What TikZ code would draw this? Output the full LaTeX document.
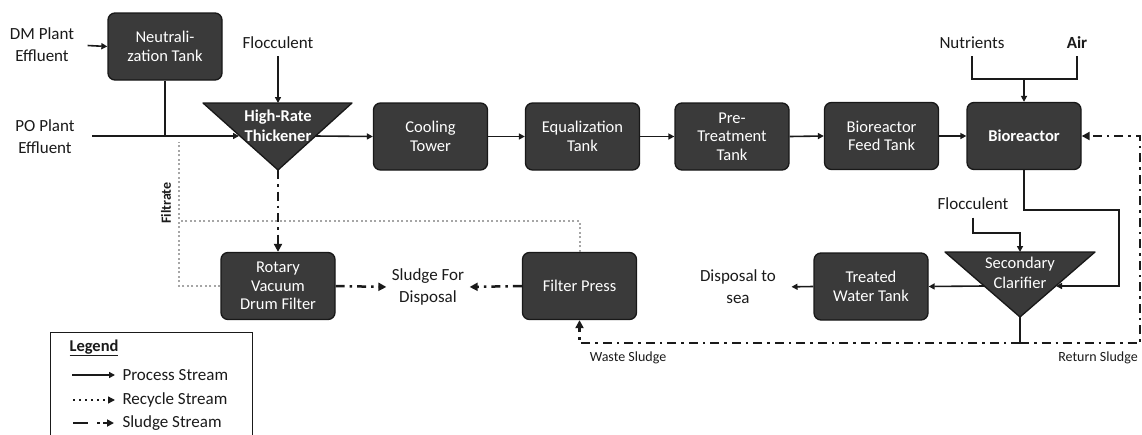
\documentclass[tikz,border=0pt]{standalone}
\usepackage{fontspec}
\setmainfont{Carlito}
\usetikzlibrary{arrows.meta,calc}
\definecolor{boxfill}{HTML}{3A3A3A}
\definecolor{boxline}{HTML}{181818}
\definecolor{recycle}{HTML}{A6A6A6}
\definecolor{ink}{HTML}{1A1A1A}
\begin{document}
\begin{tikzpicture}[x=1pt,y=-1pt,
  unit/.style={draw=boxline, fill=boxfill, rounded corners=7pt, line width=1.3pt,
    minimum width=114pt, minimum height=67pt, text=white, align=center, inner sep=2pt,
    font=\fontsize{16.5}{18.5}\selectfont},
  tri/.style={draw=boxline, fill=boxfill, line width=1.3pt, line join=round},
  tritext/.style={text=white, align=center, inner sep=0pt, font=\fontsize{16.5}{20}\selectfont},
  lbl/.style={align=center, text=ink, font=\fontsize{17}{22}\selectfont},
  small/.style={text=ink, font=\fontsize{14}{16}\selectfont},
  proc/.style={line width=1.6pt, draw=ink, -{Triangle[length=6pt,width=6pt]}},
  procl/.style={line width=1.6pt, draw=ink},
  sludge/.style={line width=2.5pt, draw=ink, dash pattern=on 9pt off 5pt on 2.5pt off 5pt},
  sludgetip/.style={-{Triangle[length=8pt,width=8pt]}},
  recyc/.style={line width=2pt, draw=recycle, dash pattern=on 2pt off 2.5pt}
]
\useasboundingbox (0,0) rectangle (1142,434);

% ---------- process units ----------
\node[unit] (neut) at (165,46.5) {Neutrali-\\zation Tank};
\node[unit] (cool) at (430.5,136.5) {Cooling\\Tower};
\node[unit] (equal) at (582.5,136.5) {Equalization\\Tank};
\node[unit] (pre) at (732,136.5) {Pre-\\Treatment\\Tank};
\node[unit] (feed) at (881.5,136) {Bioreactor\\Feed Tank};
\node[unit] (bio) at (1024,136) {\textbf{Bioreactor}};
\node[unit] (rvdf) at (278,286) {Rotary\\Vacuum\\Drum Filter};
\node[unit] (fp) at (579.5,286) {Filter Press};
\node[unit] (tw) at (871,286.5) {Treated\\Water Tank};

% ---------- triangles ----------
\coordinate (hA) at (203,103);
\coordinate (hB) at (352,103);
\coordinate (hC) at (278,170);
\coordinate (htop) at (278,103);
\coordinate (hin) at (239,136);
\coordinate (hout) at (315,136);
\draw[tri] (hA) -- (hB) -- (hC) -- cycle;
\node[tritext] (hrt) at (278,125.5) {\textbf{High-Rate}\\\textbf{Thickener}};

\coordinate (cA) at (945,252);
\coordinate (cB) at (1095,252);
\coordinate (cC) at (1020,317);
\coordinate (ctop) at (1020,252);
\coordinate (cin) at (1056,286);
\coordinate (cout) at (984,286);
\draw[tri] (cA) -- (cB) -- (cC) -- cycle;
\node[tritext] (sc) at (1020,273) {Secondary\\Clarifier};

% ---------- labels ----------
\node[lbl] (dm) at (42,45) {DM Plant\\Effluent};
\node[lbl] (po) at (45,137) {PO Plant\\Effluent};
\node[lbl] (floc1) at (278,43) {Flocculent};
\node[lbl] (nut) at (972,43) {Nutrients};
\node[lbl] (air) at (1077,43) {\textbf{Air}};
\node[lbl] (floc2) at (973,204) {Flocculent};
\node[lbl] (disp) at (738,287) {Disposal to\\sea};
\node[lbl] (sfd) at (428,287) {Sludge For\\Disposal};
\node[small, font=\fontsize{14}{16}\selectfont\bfseries, rotate=90] (filt) at (166,203) {Filtrate};
\node[small] (waste) at (628,358) {Waste Sludge};
\node[small] (ret) at (1098,358) {Return Sludge};

% ---------- process streams ----------
\draw[proc, shorten <=10pt] (dm.east) -- (neut.west);
\coordinate (pj) at (165,136);
\draw[procl, shorten <=14pt] (po.east |- pj) -- (pj);
\draw[proc] (pj) -- (hin);
\draw[procl] (neut.south) -- (pj);
\draw[proc, shorten <=4pt] (floc1.south) -- (htop);
\draw[proc] (hout) -- (cool.west);
\draw[proc] (cool.east) -- (equal.west);
\draw[proc] (equal.east) -- (pre.west);
\draw[proc] (pre.east) -- (feed.west);
\draw[proc] (feed.east) -- (bio.west);
\coordinate (nj) at (1024,79);
\draw[procl, shorten <=4pt] (nut.south) |- (nj);
\draw[procl, shorten <=4pt] (air.south) |- (nj);
\draw[proc] (nj) -- (bio.north);
\coordinate (b1) at (1119,210);
\draw[proc] (bio.south) |- (b1) |- (cin);
\coordinate (f1) at (1020,233);
\draw[proc, shorten <=4pt] (floc2.south) |- (f1) -- (ctop);
\draw[proc] (cout) -- (tw.east);
\draw[proc, shorten >=12pt] (tw.west) -- (disp.east);
\coordinate (sj) at (1020,343);
\draw[procl] (cC) -- (sj);

% ---------- sludge streams ----------
\coordinate (r1) at (1140,343);
\coordinate (r2) at (1140,136);
\draw[sludge, sludgetip] (sj) -- (r1) -- (r2) -- (bio.east);
\draw[sludge, sludgetip] (sj) -| (fp.south);
\draw[sludge, sludgetip] (hC) -- (rvdf.north);
\draw[sludge, sludgetip, shorten >=2pt] (rvdf.east) -- (sfd.west);
\draw[sludge, sludgetip, shorten >=2pt] (fp.west) -- (sfd.east);

% ---------- recycle streams ----------
\coordinate (rA) at (179,142);
\coordinate (rC) at (179,221);
\draw[recyc] (rvdf.west) -| (rA);
\draw[recyc] (fp.north) |- (rC);

% ---------- legend ----------
\draw[line width=1pt, draw=ink] (50,440) -- (50,332) -- (252,332) -- (252,440);
\node[anchor=west, text=ink, font=\fontsize{16.5}{18}\selectfont\bfseries] (leg) at (66,348) {\underline{Legend}};
\node[anchor=west, lbl] (lp) at (119,375) {Process Stream};
\node[anchor=west, lbl] (lr) at (119,400) {Recycle Stream};
\node[anchor=west, lbl] (ls) at (119,423) {Sludge Stream};
\coordinate (lp0) at (72,375);
\coordinate (lr0) at (73,400);
\coordinate (ls0) at (73,423);
\draw[proc, shorten >=4pt] (lp0) -- (lp.west);
\draw[line width=1.4pt, draw=ink, dash pattern=on 2pt off 4pt, -{Triangle[length=7pt,width=7pt]}, shorten >=4pt] (lr0) -- (lr.west);
\draw[line width=2.5pt, draw=ink, dash pattern=on 15pt off 9pt on 3pt off 3pt, -{Triangle[length=7pt,width=7pt]}, shorten >=5pt] (ls0) -- (ls.west);
\end{tikzpicture}
\end{document}
